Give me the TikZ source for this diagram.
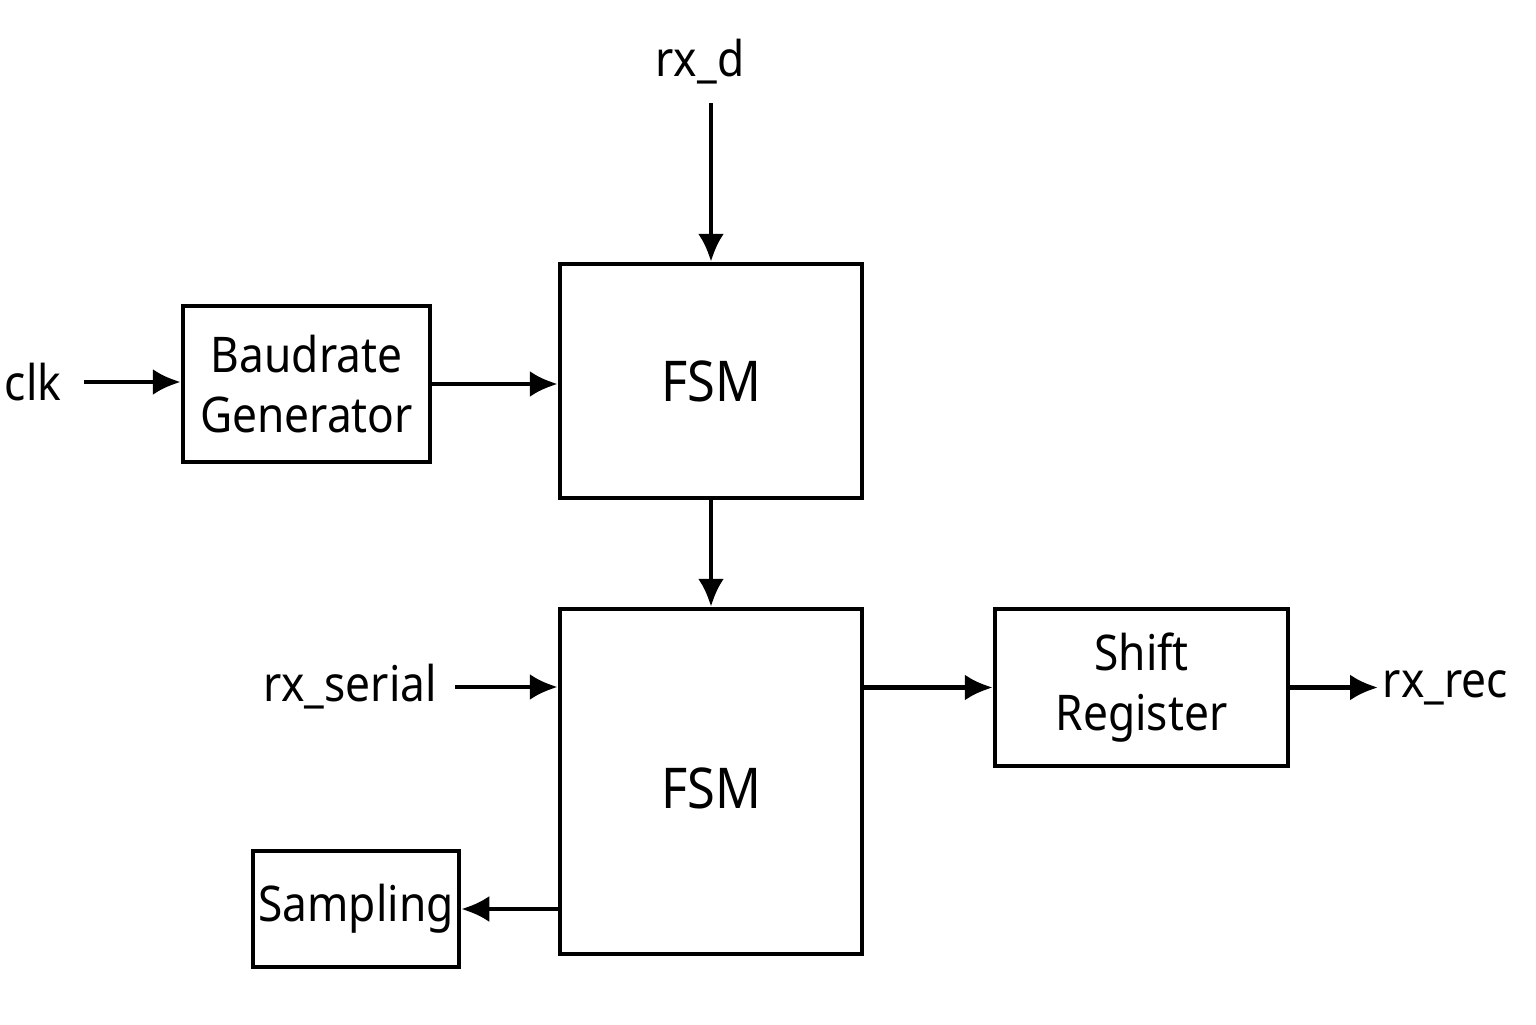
\documentclass[tikz,border=0pt]{standalone}
\usepackage{fontspec}
\setmainfont[FakeStretch=0.9]{Noto Sans}
\usetikzlibrary{arrows.meta}
\begin{document}
\begin{tikzpicture}
\useasboundingbox (0,0) rectangle (15.36,10.24);

\tikzset{block/.style = {shape=rectangle,draw,line width=0.045cm,align=center,inner sep=0.02cm,font=\fontsize{14}{17}\selectfont}}
\tikzset{big/.style = {font=\fontsize{16}{19}\selectfont}}
\tikzset{signal/.style = {font=\fontsize{14}{17}\selectfont,inner sep=0.08cm}}
\tikzset{edge/.style = {-{Latex[length=0.28cm,width=0.26cm]},line width=0.045cm}}
% blocks
\node[block,minimum width=2.47cm,minimum height=1.56cm] (baud) at (3.065,6.40) {Baudrate\\Generator};
\node[block,big,minimum width=3.02cm,minimum height=2.34cm] (fsm1) at (7.11,6.43) {FSM};
\node[block,big,minimum width=3.02cm,minimum height=3.45cm,text height=0.55cm] (fsm2) at (7.11,2.425) {FSM};
\node[block,minimum width=2.93cm,minimum height=1.57cm] (shift) at (11.415,3.365) {Shift\\Register};
\node[block,minimum width=2.06cm,minimum height=1.16cm] (samp) at (3.56,1.15) {Sampling};

% signals
\node[signal] (clk) at (0.33,6.42) {clk};
\node[signal] (rxd) at (7.00,9.62) {rx\_d};
\node[signal] (rxser) at (3.50,3.37) {rx\_serial};
\node[signal,anchor=west,inner sep=0.04cm] (rxrec) at (13.78,3.365) {rx\_rec};



%edges

\draw[edge,shorten <=0.14cm] (clk) -- (baud.west |- clk);
\draw[edge] (baud.east) -- (fsm1.west |- baud.east);
\draw[edge,shorten <=0.1cm] (rxd.south -| fsm1) -- (fsm1);
\draw[edge] (fsm1) -- (fsm2);
\draw[edge,shorten <=0.1cm] (rxser) -- (rxser -| fsm2.west);
\draw[edge] (fsm2.east |- shift) -- (shift);
\draw[edge] (shift) -- (rxrec);
\draw[edge] (fsm2.west |- samp) -- (samp);
\end{tikzpicture}
\end{document}
